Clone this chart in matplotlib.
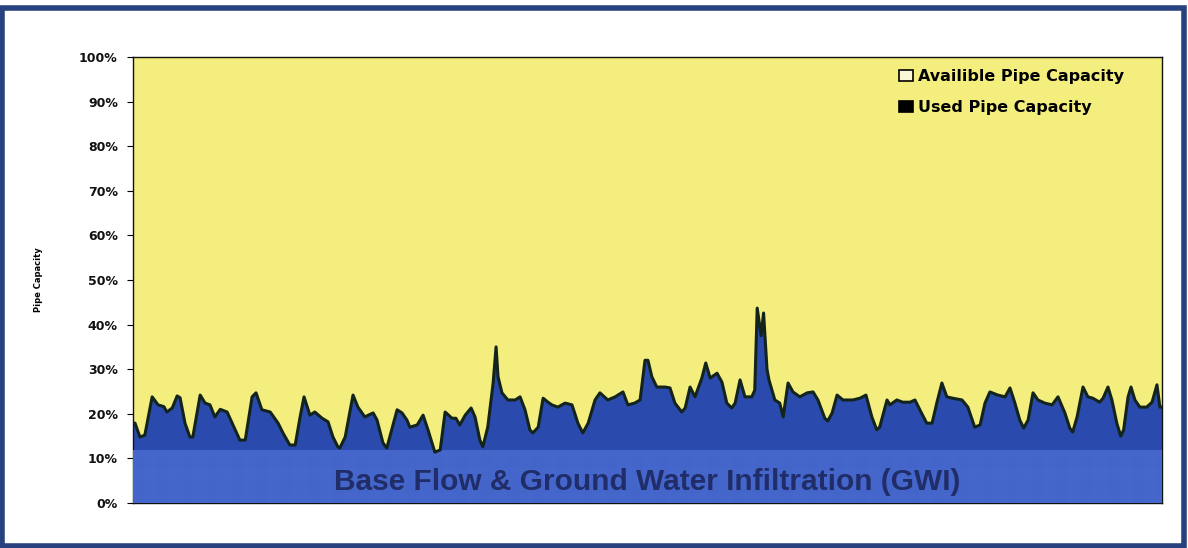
import matplotlib
matplotlib.use("Agg")
import matplotlib.pyplot as plt
from matplotlib.patches import Patch, Rectangle
import numpy as np

# ---- data (time in days, used pipe capacity in %) ----
day = [0.00, 0.04, 0.14, 0.24, 0.39, 0.51, 0.63, 0.69, 0.80, 0.90, 0.96, 1.06, 1.16, 1.22,
       1.37, 1.47, 1.57, 1.67, 1.78, 1.92, 2.04, 2.18, 2.29, 2.43, 2.51, 2.63, 2.80, 2.96,
       3.06, 3.20, 3.31, 3.41, 3.49, 3.61, 3.71, 3.86, 3.98, 4.08, 4.18, 4.22, 4.33, 4.49,
       4.59, 4.73, 4.90, 4.98, 5.10, 5.18, 5.24, 5.39, 5.49, 5.59, 5.65, 5.80, 5.92, 6.02,
       6.16, 6.27, 6.37, 6.51, 6.59, 6.67, 6.78, 6.90, 6.98, 7.08, 7.14, 7.24, 7.35, 7.41,
       7.45, 7.53, 7.65, 7.80, 7.90, 8.00, 8.10, 8.16, 8.27, 8.37, 8.47, 8.55, 8.67, 8.82,
       8.96, 9.08, 9.18, 9.29, 9.43, 9.53, 9.69, 9.84, 10.00, 10.10, 10.24, 10.35, 10.45,
       10.51, 10.59, 10.69, 10.86, 10.96, 11.06, 11.20, 11.27, 11.37, 11.47, 11.61, 11.69,
       11.78, 11.92, 12.02, 12.12, 12.22, 12.29, 12.39, 12.49, 12.63, 12.69, 12.74, 12.82,
       12.87, 12.94, 12.98, 13.10, 13.20, 13.27, 13.37, 13.47, 13.61, 13.76, 13.88, 13.98,
       14.12, 14.18, 14.27, 14.37, 14.49, 14.69, 14.84, 14.96, 15.08, 15.18, 15.24, 15.39,
       15.45, 15.59, 15.71, 15.86, 15.96, 16.06, 16.20, 16.31, 16.41, 16.51, 16.61, 16.73,
       16.92, 17.04, 17.08, 17.18, 17.29, 17.39, 17.49, 17.65, 17.80, 17.90, 18.00, 18.10,
       18.18, 18.27, 18.37, 18.47, 18.61, 18.76, 18.88, 19.02, 19.12, 19.18, 19.27, 19.39,
       19.49, 19.59, 19.73, 19.80, 19.90, 19.98, 20.08, 20.16, 20.22, 20.31, 20.37, 20.45,
       20.55, 20.69, 20.80, 20.90, 20.96, 21.00]
used_pct = [18.0, 17.9, 14.8, 15.2, 23.8, 22.0, 21.6, 20.4, 21.3, 24.0, 23.6, 17.9, 14.8, 14.8,
            24.2, 22.4, 22.0, 19.3, 21.0, 20.4, 17.5, 14.1, 14.1, 23.8, 24.7, 20.9, 20.4, 17.9,
            15.7, 13.0, 13.0, 19.3, 23.8, 19.7, 20.4, 19.0, 18.2, 14.8, 12.6, 12.3, 14.8, 24.2,
            21.5, 19.3, 20.2, 18.6, 13.5, 12.3, 14.8, 20.9, 20.2, 18.6, 17.0, 17.5, 19.7, 16.4,
            11.4, 11.9, 20.4, 19.0, 19.0, 17.5, 19.7, 21.3, 19.3, 14.1, 12.6, 17.0, 26.9, 35.0,
            28.3, 24.7, 23.1, 23.1, 23.8, 20.9, 16.4, 15.7, 17.0, 23.5, 22.6, 22.0, 21.5, 22.4,
            22.0, 17.9, 15.7, 17.9, 23.1, 24.7, 23.1, 23.8, 24.9, 22.0, 22.4, 23.1, 32.0,
            32.0, 28.3, 26.0, 26.0, 25.8, 22.4, 20.4, 21.3, 26.0, 23.8, 28.0, 31.4,
            28.0, 29.1, 27.1, 22.4, 21.3, 22.4, 27.6, 23.8, 23.8, 25.3, 43.7, 37.5,
            42.6, 30.0, 27.6, 23.1, 22.4, 19.3, 26.9, 24.9, 23.8, 24.7, 24.9, 23.1,
            19.0, 18.4, 20.2, 24.2, 23.1, 23.1, 23.5, 24.2, 19.3, 16.4, 17.0, 23.1,
            22.0, 23.1, 22.6, 22.6, 23.1, 20.9, 17.9, 17.9, 22.6, 26.9, 23.8, 23.5,
            23.1, 21.5, 20.2, 17.0, 17.5, 22.4, 24.9, 24.2, 23.8, 25.8, 22.4, 18.6,
            16.8, 18.6, 24.7, 23.1, 22.4, 22.0, 23.8, 20.2, 16.8, 15.9, 19.3, 26.0,
            23.8, 23.5, 22.6, 23.5, 26.0, 23.1, 17.9, 15.0, 16.4, 23.8, 26.0, 23.1,
            21.5, 21.5, 22.6, 26.5, 21.5, 21.5]
base_flow_pct = 11.8
y_ticks = [0, 10, 20, 30, 40, 50, 60, 70, 80, 90, 100]
y_tick_labels = [f"{v}%" for v in y_ticks]
legend_labels = ["Availible Pipe Capacity", "Used Pipe Capacity"]
band_label = "Base Flow & Ground Water Infiltration (GWI)"

# ---- style ----
YELLOW = "#f4ee7e"
BLUE = "#2b4aae"
BAND = "#3153bd"
HATCH = "#4668cc"
LINE = "#13241c"
FRAME = "#27427e"

plt.rcParams["hatch.linewidth"] = 0.35
plt.rcParams["hatch.color"] = HATCH

fig = plt.figure(figsize=(11.88, 5.48), dpi=100)
fig.patch.set_facecolor("white")
ax = fig.add_axes([0.112, 0.0821, 0.866, 0.8139])

t = np.array(day)
u = np.array(used_pct)
ax.set_facecolor(YELLOW)
ax.fill_between(t, 0, u, color=BLUE, lw=0, zorder=2)
ax.fill_between(t, 0, np.full_like(t, base_flow_pct), facecolor=BAND, edgecolor=HATCH,
                hatch="+" * 16, lw=0, zorder=3)
ax.plot(t, u, color=LINE, lw=2.2, zorder=4, solid_joinstyle="round")

ax.set_xlim(t[0], t[-1])
ax.set_ylim(0, 100)
ax.set_xticks([])
ax.set_yticks(y_ticks)
ax.set_yticklabels(y_tick_labels, fontsize=9, fontweight="bold", color="#111111")
ax.tick_params(axis="y", direction="out", length=4, width=0.8, pad=7)
for s in ax.spines.values():
    s.set_color("#111111")
    s.set_linewidth(1.0)
ax.set_ylabel("Pipe Capacity", fontsize=6, fontweight="bold")
ax.yaxis.set_label_coords(-0.088, 0.5)

ax.text(np.mean([t[0], t[-1]]), 4.8, band_label, ha="center", va="center",
        fontsize=21.5, fontweight="bold", family="Liberation Sans", color="#202d68", zorder=5)

handles = [Patch(facecolor="#fbf8d8", edgecolor="black", lw=1.2),
           Patch(facecolor="black", edgecolor="black", lw=1.2)]
ax.legend(handles, legend_labels, loc="upper right", bbox_to_anchor=(0.977, 1.005),
          frameon=False, prop={"weight": "bold", "size": 11.5},
          handlelength=0.9, handleheight=0.7, handletextpad=0.3, labelspacing=1.0)

fig.add_artist(Rectangle((0.002, 0.004), 0.995, 0.982, transform=fig.transFigure,
                         fill=False, edgecolor=FRAME, lw=4))

fig.savefig("out.png", dpi=100)
